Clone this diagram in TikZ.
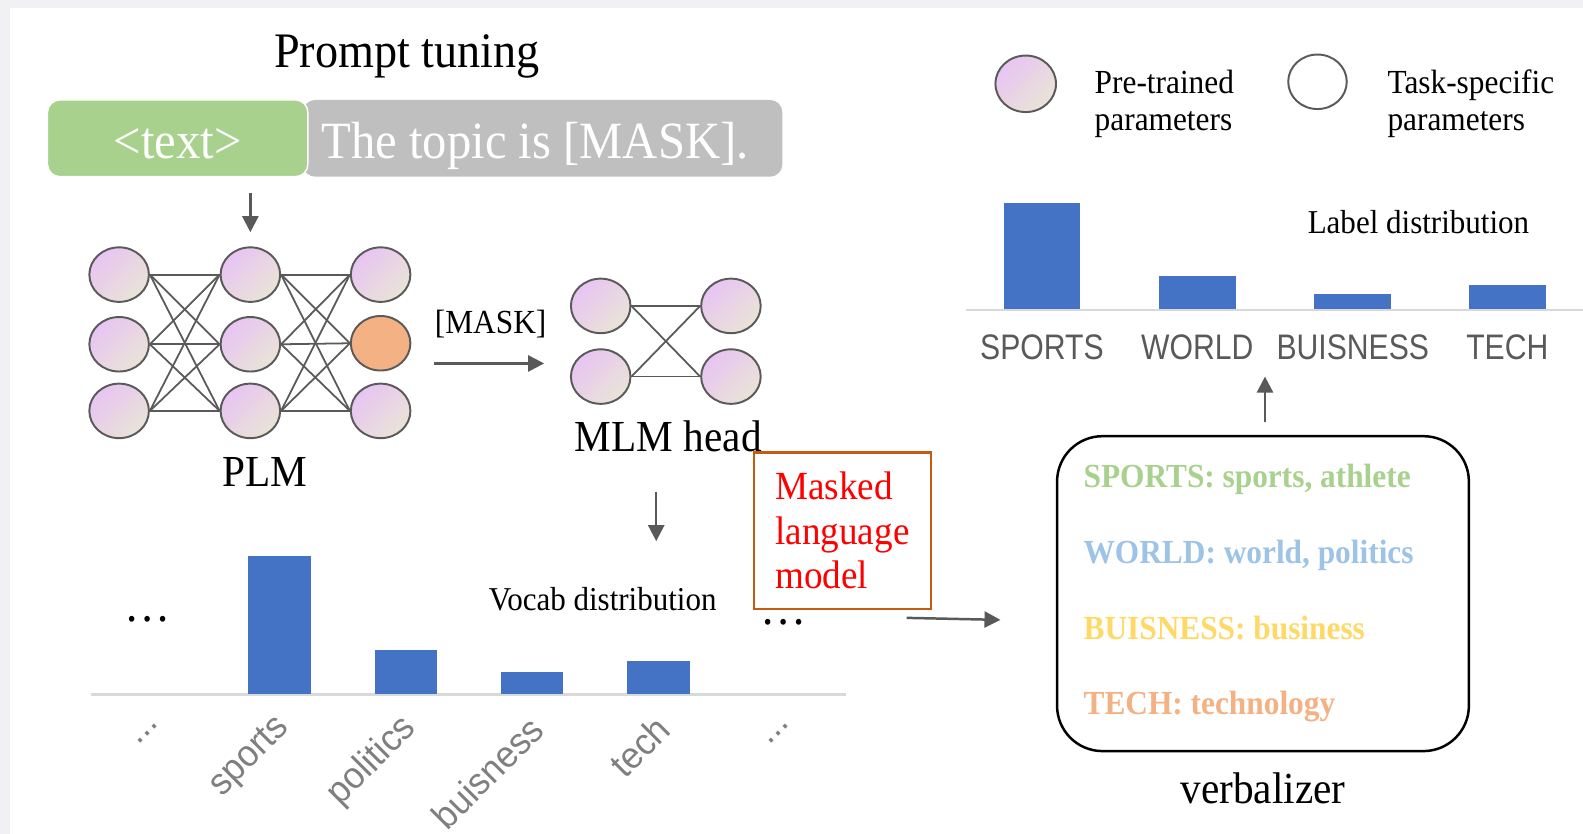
\documentclass[tikz,border=0pt]{standalone}
\usepackage{fontspec}
\setmainfont{Liberation Serif}[FakeStretch=0.93]
\newfontfamily\chartfont{Liberation Sans}[FakeStretch=0.85]
\newfontfamily\tickfont{Liberation Sans}[FakeStretch=0.95]
\usetikzlibrary{arrows.meta,shapes.geometric}
\definecolor{pagegrey}{HTML}{F1F1F3}
\definecolor{pinkA}{HTML}{E8C4F3}
\definecolor{beigeA}{HTML}{E9E4D6}
\definecolor{maskorange}{HTML}{F4B183}
\definecolor{edgegrey}{HTML}{5A5A5A}
\definecolor{arrowgrey}{HTML}{595959}
\definecolor{promptgreen}{HTML}{A9D18E}
\definecolor{promptgrey}{HTML}{BFBFBF}
\definecolor{barblue}{HTML}{4472C4}
\definecolor{chartline}{HTML}{D9D9D9}
\definecolor{labelgrey}{HTML}{595959}
\definecolor{ticklabelgrey}{HTML}{7F7F7F}
\definecolor{boxorange}{HTML}{C55A11}
\definecolor{sportsgreen}{HTML}{A9D18E}
\definecolor{worldblue}{HTML}{9DC3E6}
\definecolor{businessyellow}{HTML}{FFD966}
\definecolor{techorange}{HTML}{F4B183}
\newcommand{\dotlabel}{...}
\begin{document}
\begin{tikzpicture}[x=0.02cm,y=-0.02cm,
  neuronbase/.style={ellipse,draw=edgegrey,line width=1.1pt,minimum width=1.18cm,minimum height=1.08cm,inner sep=0pt},
  pretrained/.style={neuronbase,left color=pinkA,right color=beigeA,shading angle=45},
  masked/.style={neuronbase,fill=maskorange},
  link/.style={edgegrey,line width=1pt},
  flow/.style={arrowgrey,line width=1.4pt,-{Triangle[length=9pt,width=9pt]}},
  catlabel/.style={inner sep=0pt,text=ticklabelgrey,font=\tickfont\fontsize{21}{21}\selectfont},
  classlabel/.style={inner sep=0pt,text=labelgrey,font=\chartfont\fontsize{20}{20}\selectfont},
  mapping/.style={anchor=base west,inner sep=0pt,font=\bfseries\fontsize{19}{19}\selectfont}]
\fill[pagegrey] (0,0) rectangle (1568,826);
\fill[white] (10,8) rectangle (1568,826);
\useasboundingbox (0,0) rectangle (1568,826);

\node[anchor=base,font=\fontsize{28}{30}\selectfont] (title) at (403,67) {Prompt tuning};
\node[fill=promptgrey,rounded corners=7pt,minimum width=9.5cm,minimum height=1.52cm] (prompt) at (537.5,137) {};
\node[fill=promptgreen,draw=white,line width=0.8pt,rounded corners=7pt,minimum width=5.16cm,minimum height=1.52cm] (textbox) at (176,137) {};
\node[anchor=base,text=white,font=\fontsize{29.5}{30}\selectfont] (textlabel) at (176,157) {<text>};
\node[anchor=base,text=white,font=\fontsize{29.5}{30}\selectfont] (topic) at (530,157) {The topic is [MASK].};

\foreach \c/\x in {1/118,2/248}
  \foreach \r/\y in {1/272,2/341,3/407}
    \node[pretrained] (p\c\r) at (\x,\y) {};
\node[pretrained] (p31) at (377,272) {};
\node[masked] (p32) at (377,340) {};
\node[pretrained] (p33) at (377,407) {};
\foreach \a in {1,2,3}
  \foreach \b in {1,2,3} {
    \draw[link] (p1\a.east) -- (p2\b.west);
    \draw[link] (p2\a.east) -- (p3\b.west);
  }
\node[anchor=base,font=\fontsize{25}{27}\selectfont] (plm) at (262,482) {PLM};
\draw[flow,shorten <=9pt,shorten >=8pt] (p21.north |- textbox.south) -- (p21.north);

\node[pretrained] (m11) at (595,303) {};
\node[pretrained] (m21) at (724,303) {};
\node[pretrained] (m12) at (595,373) {};
\node[pretrained] (m22) at (724,373) {};
\draw[link] (m11.east) -- (m21.west);
\draw[link] (m12.east) -- (m22.west);
\draw[link] (m11.east) -- (m22.west);
\draw[link] (m12.east) -- (m21.west);
\node[anchor=base,font=\fontsize{25}{27}\selectfont] (head) at (662,447) {MLM head};

\coordinate (plmout) at (430,360);
\coordinate (headin) at (539,360);
\draw[flow] (plmout) -- (headin);
\node[anchor=base,font=\fontsize{19}{20}\selectfont] (masklabel) at (486,330) {[MASK]};

\coordinate (headout) at (650,487);
\coordinate (vocabin) at (650,536);
\draw[flow] (headout) -- (vocabin);

\node[draw=boxorange,line width=1.4pt,minimum width=3.5cm,minimum height=3.1cm,align=left,text=red,font=\fontsize{22.5}{25}\selectfont] (mlm) at (834.5,525.5) {Masked\\language\\model};

\draw[chartline,line width=1.3pt] (90,688) -- (838,688);
\foreach \x/\t in {277/551,402/644,527/666,652/655}
  \fill[barblue] (\x-31,\t) rectangle (\x+31,687);
\foreach \w [count=\i] in {\dotlabel,sports,politics,buisness,tech,\dotlabel}
  \node[catlabel,rotate=45,anchor=east] (vocab\i) at (27+125*\i+5,716) {\w};
\node[anchor=base,font=\fontsize{28}{28}\selectfont] (vdotsl) at (146,616) {…};
\node[anchor=base,font=\fontsize{28}{28}\selectfont] (vdotsr) at (776,619) {…};
\node[anchor=base,font=\fontsize{18.8}{20}\selectfont] (vocabtitle) at (597,605) {Vocab distribution};

\coordinate (vocabout) at (898,612);
\coordinate (verbin) at (991,614);
\draw[flow] (vocabout) -- (verbin);

\node[pretrained,minimum width=1.2cm,minimum height=1.12cm] (legpre) at (1016,83) {};
\node[anchor=west,align=left,inner sep=0pt,font=\fontsize{19}{21}\selectfont] (legpretext) at (1084,103) {Pre-trained\\parameters};
\node[neuronbase,fill=white,minimum width=1.16cm,minimum height=1.08cm] (legtask) at (1305,81) {};
\node[anchor=west,align=left,inner sep=0pt,font=\fontsize{19}{21}\selectfont] (legtasktext) at (1374,103) {Task-specific\\parameters};

\draw[chartline,line width=1.3pt] (957,307) -- (1568,307);
\foreach \x/\t in {1032/201,1186/273,1340/291,1493/282}
  \fill[barblue] (\x-38,\t) rectangle (\x+38,306);
\foreach \w/\x in {SPORTS/1032,WORLD/1186,BUISNESS/1340,TECH/1493}
  \node[classlabel,anchor=base] (cls\w) at (\x,356) {\w};
\node[anchor=base,font=\fontsize{18.8}{20}\selectfont] (labeltitle) at (1405,231) {Label distribution};

\node[draw=black,line width=1.4pt,rounded corners=0.9cm,minimum width=8.16cm,minimum height=6.24cm] (verb) at (1251,588) {};
\node[mapping,text=sportsgreen] (mapsports) at (1073,483) {SPORTS: sports, athlete};
\node[mapping,text=worldblue] (mapworld) at (1073,558) {WORLD: world, politics};
\node[mapping,text=businessyellow] (mapbusiness) at (1073,633) {BUISNESS: business};
\node[mapping,text=techorange] (maptech) at (1073,708) {TECH: technology};
\node[anchor=base,font=\fontsize{25}{27}\selectfont] (verbtitle) at (1251,796) {verbalizer};

\coordinate (verbout) at (1253,418);
\coordinate (labelin) at (1253,373);
\draw[flow] (verbout) -- (labelin);
\end{tikzpicture}
\end{document}
